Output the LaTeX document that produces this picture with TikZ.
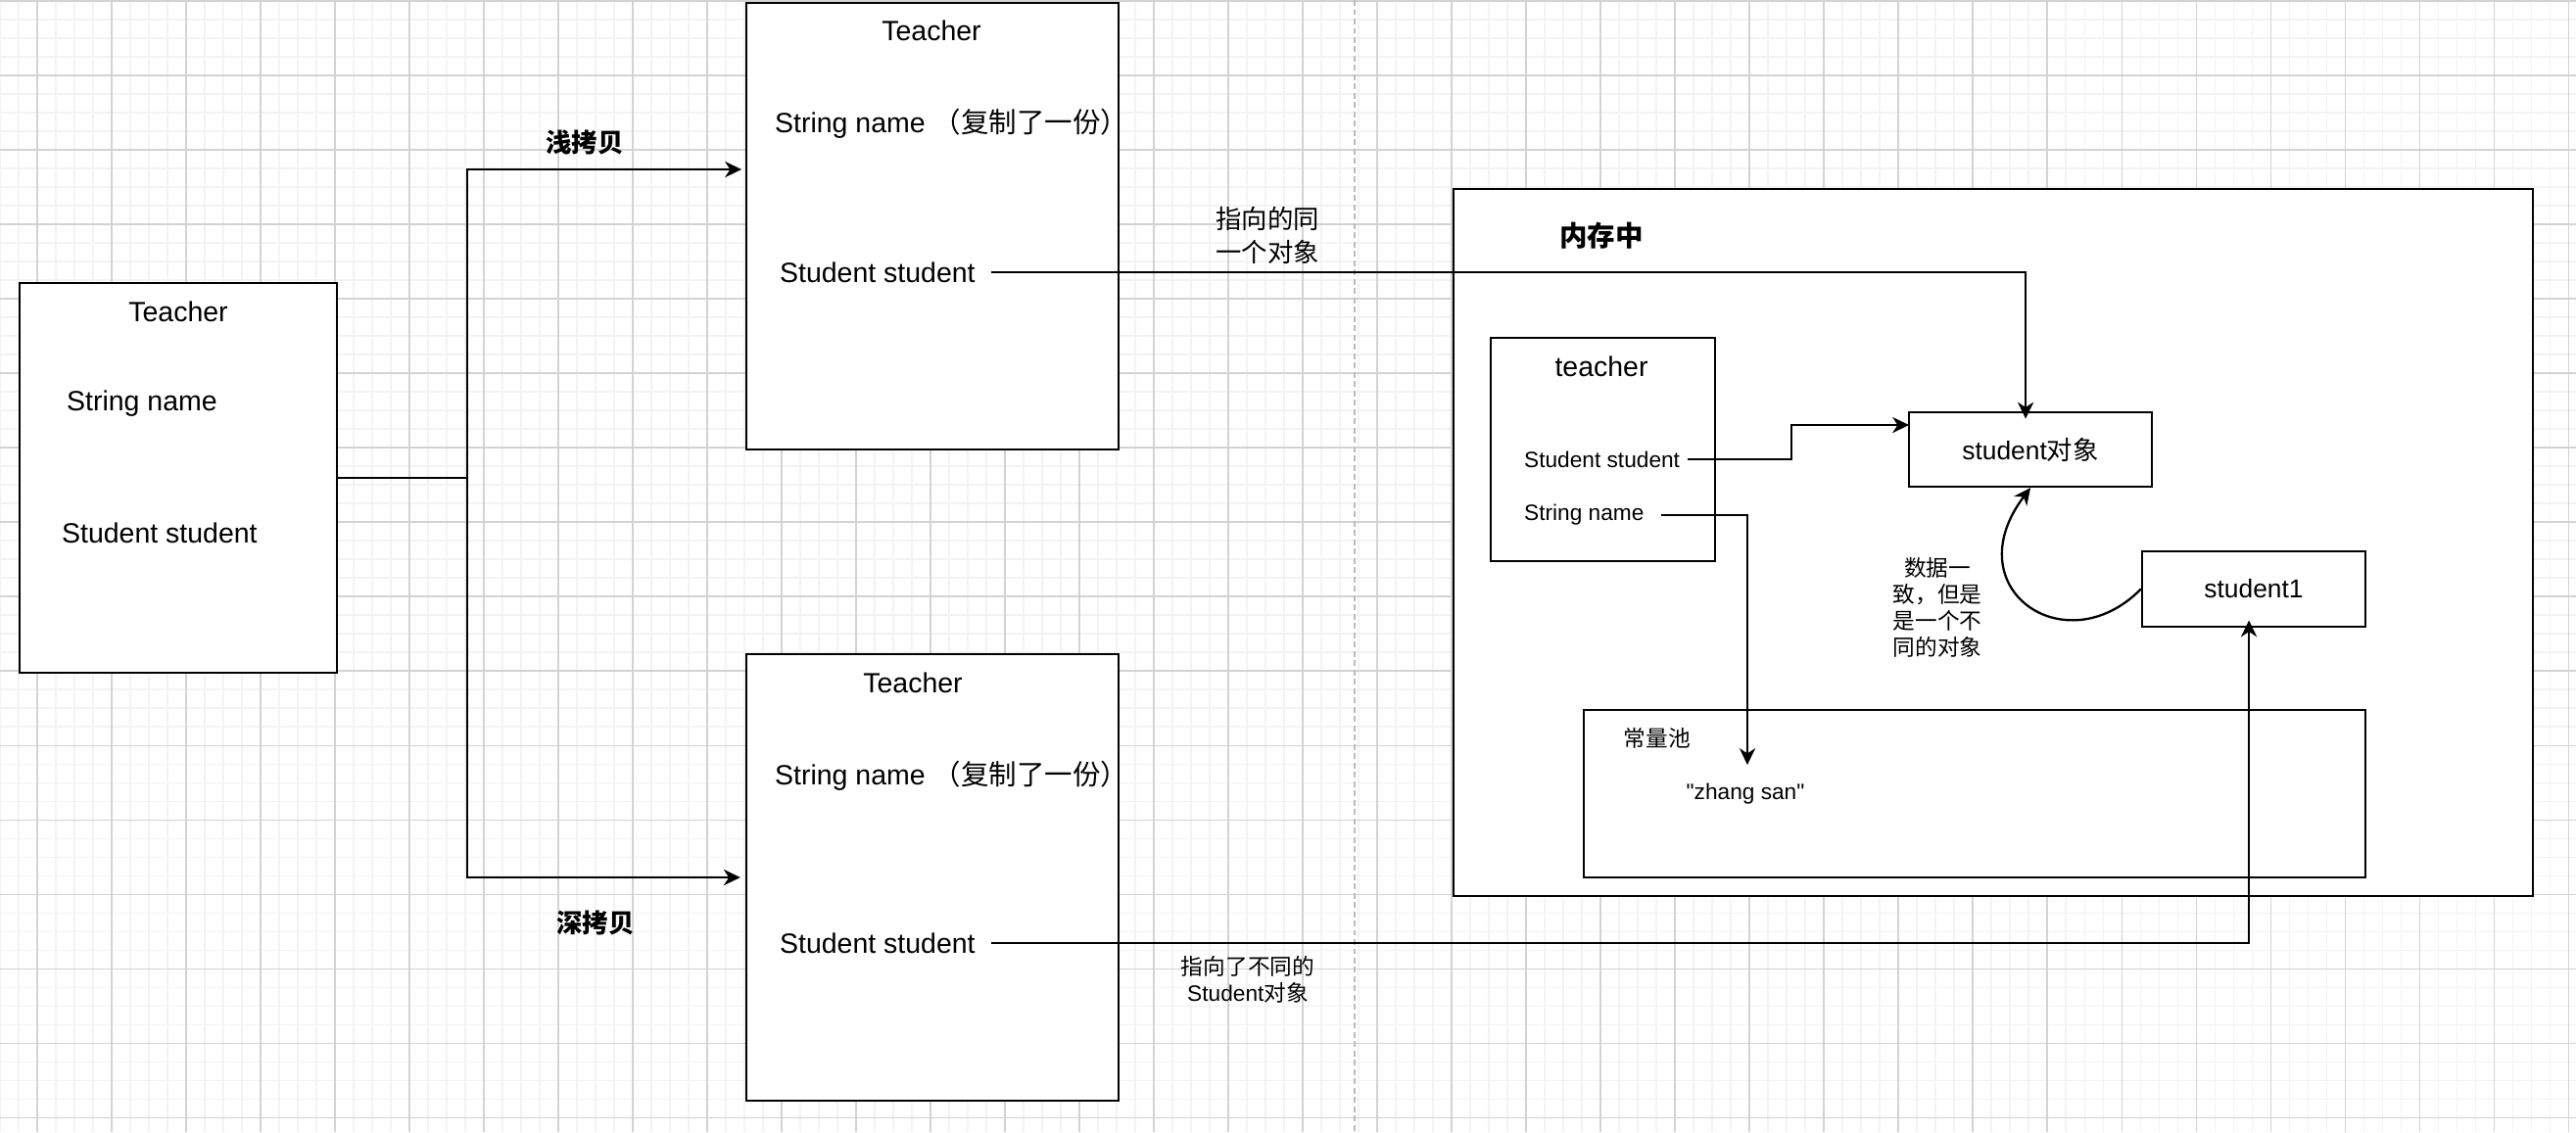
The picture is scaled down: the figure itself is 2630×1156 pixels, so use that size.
\documentclass[tikz,border=0pt]{standalone}
\usepackage{fontspec}
\setmainfont{Liberation Sans}
\newfontfamily\cjk{Noto Sans CJK SC}
\usetikzlibrary{arrows.meta}
\newcommand{\zh}[1]{{\cjk #1}}
\definecolor{gridmaj}{HTML}{D3D3D3}
\definecolor{gridmin}{HTML}{F3F3F3}
\definecolor{sepgray}{HTML}{BBBBBB}

\begin{document}
\begin{tikzpicture}[x=0.01cm,y=-0.01cm,line width=0.65pt,
  >={Stealth[length=4.8pt,width=4.6pt,inset=1.5pt]},
  big/.style={font=\fontsize{8.1}{9.7}\selectfont},
  mid/.style={font=\fontsize{7.5}{9.7}\selectfont},
  small/.style={font=\fontsize{6.45}{7.7}\selectfont},
  box/.style={draw,fill=white,inner sep=0pt},
  txt/.style={inner sep=0pt,anchor=west},
  lbl/.style={inner sep=0pt,align=center}]

\useasboundingbox (0,0) rectangle (2630,1156);
\fill[white] (0,0) rectangle (2630,1156);

\begin{scope}[line width=0.3pt]
\foreach \x in {0,19,...,2630} \draw[gridmin] (\x,0) -- (\x,1156);
\foreach \y in {1,20,...,1156} \draw[gridmin] (0,\y) -- (2630,\y);
\foreach \x in {38,114,...,2630} \draw[gridmaj] (\x,0) -- (\x,1156);
\foreach \y in {1,77,...,1156} \draw[gridmaj] (0,\y) -- (2630,\y);
\end{scope}
\draw[sepgray,line width=0.55pt,dash pattern=on 1.7pt off 1pt] (1383,0) -- (1383,1156);

% objects on the left
\node[box,minimum width=3.24cm,minimum height=3.98cm] (teacherA) at (182,488) {};
\node[box,minimum width=3.8cm,minimum height=4.56cm] (teacherB) at (952,231) {};
\node[box,minimum width=3.8cm,minimum height=4.56cm] (teacherC) at (952,896) {};

\node[big,inner sep=0pt] (aTitle) at (182,318) {Teacher};
\node[big,txt] (aName) at (67,412) {String name};
\node[big,txt] (aStu) at (62,544) {Student student};

\node[big,inner sep=0pt] (bTitle) at (951,31) {Teacher};
\node[big,txt] (bName) at (790,126) {String name \zh{（复制了一份）}};
\node[big,txt] (bStu) at (795,278) {Student student};

\node[big,inner sep=0pt] (cTitle) at (932,697) {Teacher};
\node[big,txt] (cName) at (790,792) {String name \zh{（复制了一份）}};
\node[big,txt] (cStu) at (795,963) {Student student};

\node[mid,inner sep=0pt] (shallow) at (597,145) {\zh{\bfseries 浅拷贝}};
\node[mid,inner sep=0pt] (deep) at (608,942) {\zh{\bfseries 深拷贝}};
\node[mid,lbl] (sameNote) at (1294,240) {\zh{指向的同}\\\zh{一个对象}};
\node[small,lbl] (diffNote) at (1274,1000) {\zh{指向了不同的}\\Student\zh{对象}};

% memory
\node[box,minimum width=11.02cm,minimum height=7.22cm] (memory) at (2035,554) {};
\node[big,inner sep=0pt] (memTitle) at (1635,241) {\zh{\bfseries 内存中}};

\node[box,minimum width=2.29cm,minimum height=2.28cm] (heapT) at (1636.5,459) {};
\node[big,inner sep=0pt] (tTitle) at (1635,374) {teacher};
\node[small,txt] (tStu) at (1555,469) {Student student};
\node[small,txt] (tName) at (1555,526) {String name};

\node[box,mid,minimum width=2.48cm,minimum height=0.76cm] (objS) at (2073,459) {student\zh{对象}};
\node[box,mid,minimum width=2.28cm,minimum height=0.77cm] (stu1) at (2301,601.5) {student1};
\node[small,lbl] (sameData) at (1978,620) {\zh{数据一}\\\zh{致，但是}\\\zh{是一个不}\\\zh{同的对象}};

\node[box,minimum width=7.98cm,minimum height=1.71cm] (pool) at (2016,810.5) {};
\node[small,inner sep=0pt] (poolTitle) at (1692,754) {\zh{常量池}};
\node[small,inner sep=0pt] (zs) at (1782,811) {\textquotedbl zhang san\textquotedbl};

% connectors
\coordinate (fork) at (477,488);
\coordinate (shallowIn) at (762,173);
\coordinate (objIn) at (1949,434);
\coordinate (poolTip) at (1784,781);

\draw (teacherA.east) -- (fork);
\draw[->,shorten >=1.4pt] (fork) |- (shallowIn);
\draw[->,shorten >=1.4pt] (fork) |- (teacherC.west);
\draw[->,shorten <=4.3pt,shorten >=-2.2pt] (bStu.east) -| ([xshift=-1.4pt]objS.north);
\draw[->,shorten <=4.3pt,shorten >=-2.2pt] (cStu.east) -| ([xshift=-1.4pt]stu1.south);
\draw[->,shorten <=2pt] (tStu.east) -- ++(113,0) |- (objIn);
\draw[->,shorten <=4.7pt] (tName.east) -| (poolTip);
\draw[->] (stu1.west) .. controls +(-77,78) and +(-78,103) .. (objS.south);

\end{tikzpicture}
\end{document}
